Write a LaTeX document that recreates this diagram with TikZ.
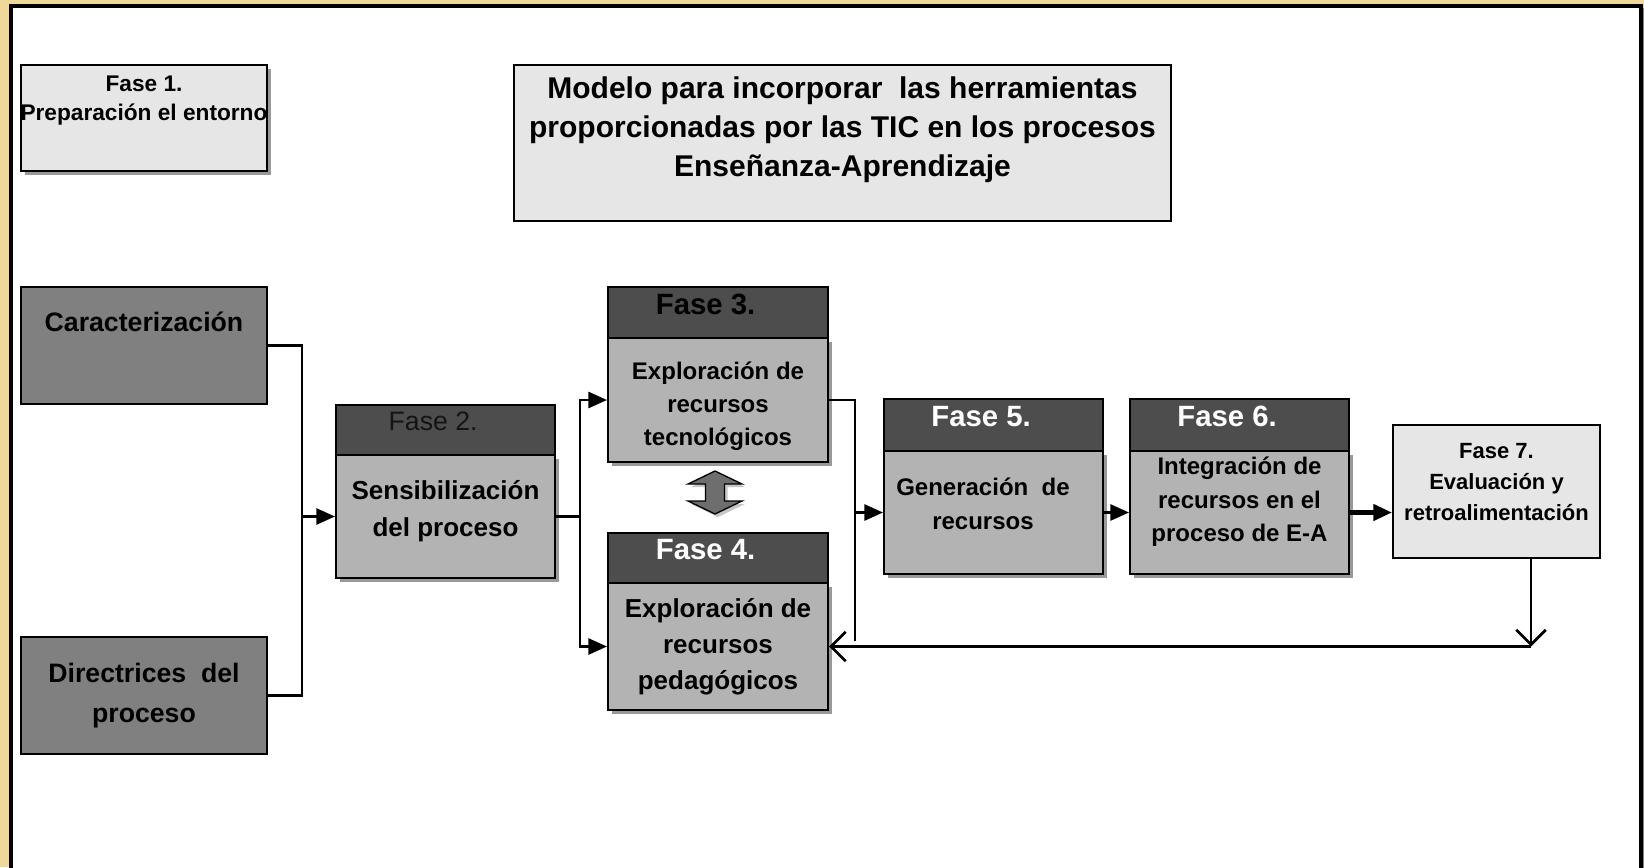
\documentclass[tikz,border=0pt]{standalone}
\usepackage{fontspec}
\setmainfont{Liberation Sans}
\usetikzlibrary{fit,arrows.meta,shadows}
\definecolor{beige}{HTML}{EFD99A}
\definecolor{hdrgray}{HTML}{4D4D4D}
\definecolor{bodygray}{HTML}{B3B3B3}
\definecolor{midgray}{HTML}{808080}
\definecolor{lightgray}{HTML}{E6E6E6}
\definecolor{arrgray}{HTML}{6E6E6E}
\definecolor{dimtext}{HTML}{141414}
\begin{document}
\begin{tikzpicture}[x=0.75pt,y=-0.75pt,
  boxshadow/.style={drop shadow={shadow xshift=3pt,shadow yshift=-3pt,fill=black,opacity=0.4}},
  plain/.style={draw=black,line width=1.5pt,inner sep=0pt},
  hdr/.style={plain,fill=hdrgray},
  bdy/.style={plain,fill=bodygray,boxshadow},
  dark/.style={plain,fill=midgray},
  light/.style={plain,fill=lightgray},
  htxt/.style={font=\bfseries\fontsize{22}{26}\selectfont,xshift=-9.3pt,yshift=6.4pt},
  conn/.style={line width=2.1pt},
  tip/.style={-{Triangle[length=14pt,width=12pt]}},
  opentip/.style={-{Straight Barb[length=11pt,width=22pt,line width=2.1pt]}}
]
\useasboundingbox (0,0) rectangle (1644,867);
\fill[beige] (0,0) rectangle (1644,867);
\begin{scope}
\clip (0,0) rectangle (1644,867);
\draw[gray,line width=2pt] (14,9) rectangle (1644,890);
\draw[black,line width=2.5pt,fill=white] (11,6) rectangle (1641,890);
\end{scope}

% Fase 1
\node[light,boxshadow,fit={(21,65)(267,171)},
  label={[align=center,font=\bfseries\fontsize{17}{22}\selectfont,yshift=13pt]center:{Fase 1.\\Preparación el entorno}}] (f1) {};
% Title
\node[light,fit={(514,65)(1171,221)},
  label={[align=center,font=\bfseries\fontsize{22.5}{29.5}\selectfont,yshift=10pt]center:{Modelo para incorporar\ \ las herramientas\\proporcionadas por las TIC en los procesos\\Enseñanza-Aprendizaje}}] (title) {};

% Caracterizacion / Directrices
\node[dark,fit={(21,287)(267,404)},
  label={[font=\bfseries\fontsize{20}{24}\selectfont,yshift=17.6pt]center:{Caracterización}}] (cara) {};
\node[dark,fit={(21,637)(267,754)},
  label={[align=center,font=\bfseries\fontsize{20}{30}\selectfont]center:{Directrices\ \ del\\proceso}}] (dire) {};

% Fase 2
\node[hdr,fit={(336,405)(555,455)},
  label={[font=\fontsize{20}{24}\selectfont,text=dimtext,xshift=-9.3pt,yshift=6.4pt]center:{Fase 2.}}] (h2) {};
\node[bdy,fit={(336,455)(555,578)},
  label={[align=center,font=\bfseries\fontsize{19.5}{27.4}\selectfont,yshift=4pt]center:{Sensibilización\\del proceso}}] (b2) {};

% Fase 3
\node[hdr,fit={(608,287)(828,338)},
  label={[htxt,text=black]center:{Fase 3.}}] (h3) {};
\node[bdy,fit={(608,338)(828,462)},
  label={[align=center,font=\bfseries\fontsize{18}{24.8}\selectfont,yshift=-4.5pt]center:{Exploración de\\recursos\\tecnológicos}}] (b3) {};

% Fase 4
\node[hdr,fit={(608,533)(828,583)},
  label={[htxt,text=white]center:{Fase 4.}}] (h4) {};
\node[bdy,fit={(608,583)(828,710)},
  label={[align=center,font=\bfseries\fontsize{19.5}{27}\selectfont]center:{Exploración de\\recursos\\pedagógicos}}] (b4) {};

% Fase 5
\node[hdr,fit={(884,399)(1103,451)},
  label={[htxt,text=white]center:{Fase 5.}}] (h5) {};
\node[bdy,fit={(884,451)(1103,574)},
  label={[align=center,font=\bfseries\fontsize{18}{26}\selectfont,yshift=6.4pt,xshift=-7.9pt]center:{Generación\ \ de\\recursos}}] (b5) {};

% Fase 6
\node[hdr,fit={(1130,399)(1349,451)},
  label={[htxt,text=white]center:{Fase 6.}}] (h6) {};
\node[bdy,fit={(1130,451)(1349,574)},
  label={[align=center,font=\bfseries\fontsize{18}{25}\selectfont,yshift=7.9pt]center:{Integración de\\recursos en el\\proceso de E-A}}] (b6) {};

% Fase 7
\node[light,fit={(1393,425)(1600,558)},
  label={[align=center,font=\bfseries\fontsize{16.5}{23}\selectfont,yshift=7pt]center:{Fase 7.\\Evaluación y\\retroalimentación}}] (f7) {};

% double arrow between Fase 3 and Fase 4
\fill[gray!45] (718,474) -- (745,487) -- (727.5,487) -- (727.5,504) -- (745,504) -- (718,517) -- (691,504) -- (708.5,504) -- (708.5,487) -- (691,487) -- cycle;
\filldraw[fill=arrgray,draw=black,line width=1pt] (715,471) -- (742,484) -- (724.5,484) -- (724.5,501) -- (742,501) -- (715,514) -- (688,501) -- (705.5,501) -- (705.5,484) -- (688,484) -- cycle;

% connectors
\coordinate (j1) at (302,516.5);
\draw[conn] (cara.east) -| (j1) |- (dire.east);
\draw[conn,tip] (j1) -- (j1 -| b2.west);

\coordinate (j2) at (580,516.5);
\draw[conn] (b2.east) -- (j2);
\draw[conn,tip] (j2) |- (b3.west);
\draw[conn,tip] (j2) |- (b4.west);

\coordinate (j3) at (855,641);
\draw[conn] (b3.east) -| (j3);
\draw[conn,tip] (j3 |- b5.west) -- (b5.west);

\draw[conn,tip] (b5.east) -- (b6.west);
\draw[line width=3.2pt,tip] (b6.east) -- (b6.east -| f7.west);

\coordinate (fb) at (1531,646.5);
\draw[conn,opentip] (f7.south -| fb) -- (fb);
\draw[conn,opentip] (fb) -- (fb -| b4.east);
\end{tikzpicture}
\end{document}
